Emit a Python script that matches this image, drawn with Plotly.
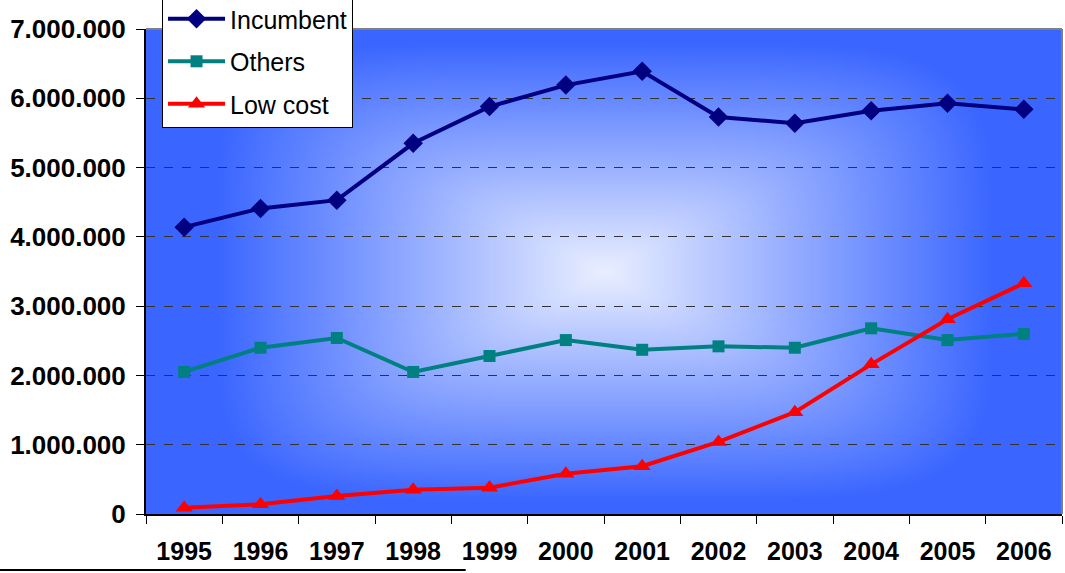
import base64
import struct
import zlib

import plotly.graph_objects as go

# ---------------- data ----------------
years = ["1995", "1996", "1997", "1998", "1999", "2000",
         "2001", "2002", "2003", "2004", "2005", "2006"]
incumbent = [4140000, 4410000, 4530000, 5350000, 5880000, 6190000,
             6390000, 5730000, 5640000, 5820000, 5930000, 5840000]
others = [2050000, 2400000, 2540000, 2050000, 2280000, 2510000,
          2370000, 2420000, 2400000, 2680000, 2510000, 2600000]
low_cost = [90000, 140000, 260000, 350000, 380000, 580000,
            690000, 1040000, 1470000, 2160000, 2810000, 3330000]


# ---------------- gradient background (style only) ----------------
def make_png(w, h, pixel):
    raw = bytearray()
    for j in range(h):
        raw.append(0)
        for i in range(w):
            raw.extend(pixel(i, j))

    def chunk(tag, data):
        c = struct.pack(">I", len(data)) + tag + data
        return c + struct.pack(">I", zlib.crc32(tag + data) & 0xFFFFFFFF)

    png = b"\x89PNG\r\n\x1a\n"
    png += chunk(b"IHDR", struct.pack(">IIBBBBB", w, h, 8, 2, 0, 0, 0))
    png += chunk(b"IDAT", zlib.compress(bytes(raw), 9))
    png += chunk(b"IEND", b"")
    return "data:image/png;base64," + base64.b64encode(png).decode()


EDGE = (58, 102, 255)
CENTER = (234, 239, 255)
GW, GH = 230, 122


def grad_pixel(i, j):
    u = abs((i + 0.5) / GW * 2 - 1) / 0.85
    v = abs((j + 0.5) / GH * 2 - 1) / 0.95
    p = 5.0
    s = (u ** p + v ** p) ** (1 / p)
    f = max(0.0, min(1.0, 1.0 - s))
    return bytes(int(round(EDGE[k] + (CENTER[k] - EDGE[k]) * f)) for k in range(3))


bg_src = make_png(GW, GH, grad_pixel)

# ---------------- figure ----------------
fig = go.Figure()

fig.add_trace(go.Scatter(
    x=years, y=incumbent, name="Incumbent", mode="lines+markers",
    legendgroup="a",
    line=dict(color="#000080", width=4),
    marker=dict(symbol="diamond", size=15, color="#000080"),
))
fig.add_trace(go.Scatter(
    x=years, y=others, name="Others", mode="lines+markers",
    legendgroup="b",
    line=dict(color="#008080", width=4),
    marker=dict(symbol="square", size=12, color="#008080"),
))
fig.add_trace(go.Scatter(
    x=years, y=low_cost, name="Low cost", mode="lines+markers",
    legendgroup="c",
    line=dict(color="#FF0000", width=4),
    marker=dict(symbol="triangle-up", size=15, color="#FF0000"),
))

x_font = dict(family="Liberation Sans, Arial, sans-serif", size=25,
              color="#000000", weight="bold")
y_font = dict(family="Liberation Sans, Arial, sans-serif", size=26,
              color="#000000", weight="bold")

fig.update_layout(
    width=1065, height=573,
    margin=dict(l=146, r=3, t=29, b=59, pad=0, autoexpand=False),
    paper_bgcolor="#FFFFFF",
    plot_bgcolor="#3A66FF",
    separators=",.",
    showlegend=True,
    legend=dict(
        x=0.0175, y=1.070, xanchor="left", yanchor="top",
        bgcolor="#FFFFFF", bordercolor="#000000", borderwidth=1,
        font=dict(family="Liberation Sans, Arial, sans-serif", size=25,
                  color="#000000"),
        tracegroupgap=7,
        itemwidth=57,
        traceorder="grouped",
    ),
    xaxis=dict(
        type="category",
        range=[-0.5, 11.5],
        showgrid=False,
        showline=True, linecolor="#000000", linewidth=2,
        ticks="outside", tickson="boundaries", ticklen=8,
        tickcolor="#000000", tickwidth=1,
        tickfont=x_font,
        ticklabelstandoff=14,
        zeroline=False,
    ),
    yaxis=dict(
        range=[0, 7000000],
        dtick=1000000,
        tickformat=",d",
        showgrid=True, gridcolor="#333333", gridwidth=1, griddash="dash",
        showline=True, linecolor="#000000", linewidth=2,
        ticks="outside", ticklen=8, tickcolor="#000000", tickwidth=1,
        tickfont=y_font,
        ticklabelstandoff=5,
        zeroline=False,
    ),
    images=[dict(
        source=bg_src, xref="paper", yref="paper",
        x=0, y=1, sizex=1, sizey=1,
        xanchor="left", yanchor="top",
        sizing="stretch", layer="below",
    )],
    shapes=[
        # gray top and right frame of the plot area
        dict(type="line", xref="paper", yref="paper", x0=0, x1=1, y0=1, y1=1,
             line=dict(color="#808080", width=2), layer="above"),
        dict(type="line", xref="paper", yref="paper", x0=1, x1=1, y0=0, y1=1,
             line=dict(color="#808080", width=2), layer="above"),
        # black rule at the bottom-left of the page
        dict(type="line", xref="paper", yref="paper",
             x0=-0.16, x1=0.349, y0=-0.1155, y1=-0.1155,
             line=dict(color="#000000", width=2)),
    ],
)

fig.write_html("out.html")
